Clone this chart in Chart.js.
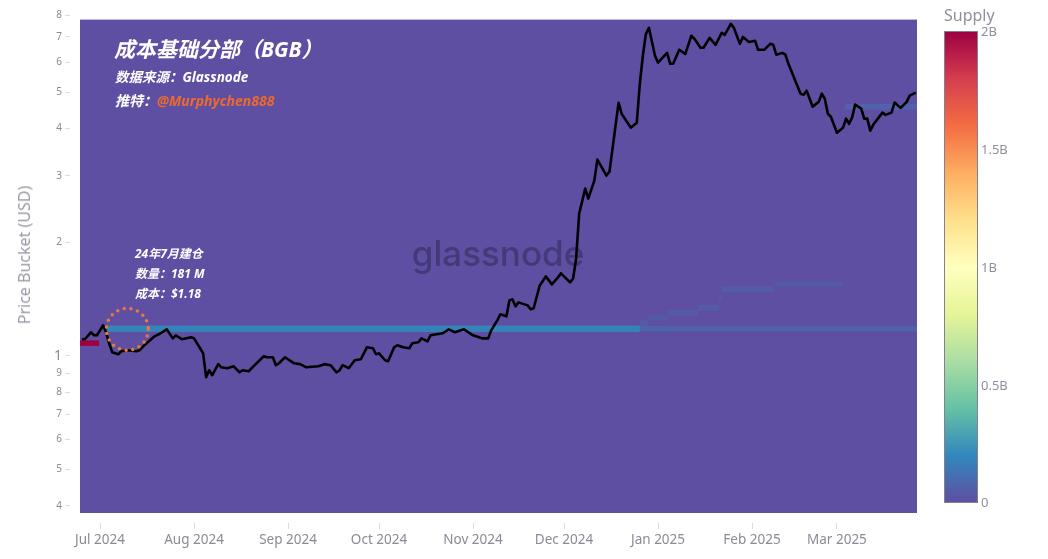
<!DOCTYPE html>
<html>
<head>
<meta charset="utf-8">
<script src="https://cdn.jsdelivr.net/npm/chart.js@4"></script>
<style>
  body { margin: 0; background: #fff; }
  #wrap { position: relative; width: 1048px; height: 559px; overflow: hidden; font-family: "Noto Sans", "Noto Sans CJK SC", sans-serif; }
  canvas { position: absolute; left: 0; top: 0; }
  .note { position: absolute; color: #fff; font-style: italic; font-weight: 700; white-space: nowrap; line-height: 1; font-family: "Noto Sans", "Noto Sans CJK SC", sans-serif; }
  .note span { color: #ee6a2c; }
  #bar { position: absolute; left: 944px; top: 31px; width: 32px; height: 470px; border: 1px solid #85808f;
    background: linear-gradient(to top, #5e4fa2, #3288bd, #66c2a5, #abdda4, #e6f598, #ffffbf, #fee08b, #fdae61, #f46d43, #d53e4f, #9e0142); }
  .barlabel { position: absolute; left: 981px; color: #8f8f9e; font-size: 13px; line-height: 1; }
  #barTitle { position: absolute; left: 944px; top: 6px; color: #8f8f9e; font-size: 16px; line-height: 1.2; }
  #yTitle { position: absolute; left: 24px; top: 255px; color: #9a9aa8; font-size: 16px; line-height: 1; white-space: nowrap; transform: translate(-50%, -50%) rotate(-90deg); }
</style>
</head>
<body>
<div id="wrap">
  <canvas id="chart" width="1048" height="559"></canvas>
  <div id="yTitle">Price Bucket (USD)</div>
  <div class="note" style="left:114px;top:39px;font-size:21px">成本基础分部（BGB）</div>
  <div class="note" style="left:115px;top:71px;font-size:13.5px">数据来源：Glassnode</div>
  <div class="note" style="left:115px;top:94px;font-size:14px">推特：<span>@Murphychen888</span></div>
  <div class="note" style="left:135px;top:248px;font-size:12px">24年7月建仓</div>
  <div class="note" style="left:135px;top:268px;font-size:12px">数量：181 M</div>
  <div class="note" style="left:135px;top:288px;font-size:12px">成本：$1.18</div>
  <div id="barTitle">Supply</div>
  <div id="bar"></div>
  <div class="barlabel" style="top:25px">2B</div>
  <div class="barlabel" style="top:143px">1.5B</div>
  <div class="barlabel" style="top:261px">1B</div>
  <div class="barlabel" style="top:379px">0.5B</div>
  <div class="barlabel" style="top:496px">0</div>
</div>
<script>
// days counted from 1 Jul 2024
const priceDays = [-6, -5, -3, -2, -1, 1, 2, 3, 4, 6, 7, 9, 12, 13, 15, 18, 20, 22, 24, 25, 27, 30, 31, 33, 34, 35, 36, 37, 39, 40, 42, 44, 46, 47, 49, 51, 54, 55, 57, 58, 59, 61, 64, 66, 68, 72, 74, 76, 78, 79, 80, 82, 84, 86, 88, 90, 91, 92, 94, 95, 97, 98, 100, 102, 103, 105, 106, 108, 109, 113, 115, 117, 120, 123, 124, 126, 128, 129, 130, 131, 132, 134, 135, 136, 137, 138, 141, 142, 143, 145, 147, 149, 151, 152, 154, 155, 156, 157, 158, 160, 161, 163, 164, 167, 168, 171, 172, 175, 177, 178, 179, 180, 181, 183, 184, 187, 188, 189, 191, 193, 195, 196, 198, 199, 201, 203, 205, 206, 208, 209, 211, 212, 214, 216, 217, 219, 221, 222, 223, 225, 226, 227, 229, 231, 232, 233, 235, 237, 238, 239, 240, 241, 243, 245, 246, 247, 248, 249, 251, 252, 253, 254, 255, 256, 258, 259, 261, 262, 264, 266, 267, 269];
const prices = [1.106, 1.106, 1.154, 1.133, 1.133, 1.204, 1.154, 1.079, 1.022, 1.009, 1.028, 1.034, 1.028, 1.034, 1.073, 1.126, 1.147, 1.175, 1.112, 1.133, 1.106, 1.119, 1.112, 1.047, 1.015, 0.877, 0.915, 0.888, 0.95, 0.932, 0.927, 0.938, 0.904, 0.915, 0.91, 0.944, 0.997, 0.991, 0.991, 0.944, 0.955, 0.991, 0.955, 0.95, 0.932, 0.938, 0.95, 0.944, 0.904, 0.915, 0.944, 0.927, 0.973, 0.979, 1.053, 1.047, 1.009, 1.015, 0.973, 0.967, 1.053, 1.066, 1.053, 1.047, 1.079, 1.086, 1.112, 1.092, 1.133, 1.147, 1.175, 1.154, 1.175, 1.133, 1.126, 1.112, 1.112, 1.168, 1.204, 1.241, 1.288, 1.272, 1.402, 1.411, 1.352, 1.385, 1.36, 1.328, 1.336, 1.536, 1.623, 1.546, 1.613, 1.653, 1.594, 1.565, 1.603, 1.811, 2.382, 2.774, 2.61, 2.913, 3.311, 3.003, 3.077, 4.685, 4.381, 4.023, 4.148, 5.26, 6.24, 7.13, 7.4, 6.24, 5.98, 6.35, 5.94, 5.94, 6.47, 6.31, 7.05, 6.92, 6.55, 6.55, 6.96, 6.67, 7.18, 7.09, 7.58, 7.4, 6.71, 7.0, 6.79, 6.84, 6.47, 6.47, 6.71, 6.67, 6.28, 6.35, 6.28, 5.94, 5.42, 4.95, 4.92, 5.04, 4.57, 4.71, 4.95, 4.8, 4.38, 4.3, 3.9, 4.02, 4.25, 4.12, 4.28, 4.63, 4.52, 4.25, 4.25, 3.95, 4.1, 4.2, 4.41, 4.35, 4.41, 4.69, 4.54, 4.71, 4.89, 4.98];

// supply buckets
const bucketPrice = [1.08, 1.18, 1.18, 1.22, 1.26, 1.3, 1.34, 1.42, 1.5, 1.55, 4.57];
const bucketStart = [-6.6, 2.3, 178, 178, 180.7, 187.3, 197.2, 204, 205, 222.6, 245.6];
const bucketEnd = [-0.3, 178, 269.4, 180.7, 187.3, 197.2, 204, 205, 222, 245, 269.4];
const bucketSupply = [2e9, 181e6, 70e6, 40e6, 40e6, 40e6, 45e6, 30e6, 45e6, 35e6, 65e6];

const monthDays = [0, 31, 62, 92, 123, 153, 184, 215, 243];
const monthLabels = ['Jul 2024', 'Aug 2024', 'Sep 2024', 'Oct 2024', 'Nov 2024', 'Dec 2024', 'Jan 2025', 'Feb 2025', 'Mar 2025'];
const priceTicks = [0.4, 0.5, 0.6, 0.7, 0.8, 0.9, 1, 2, 3, 4, 5, 6, 7, 8];

const spectral = ['#5e4fa2', '#3288bd', '#66c2a5', '#abdda4', '#e6f598', '#ffffbf', '#fee08b', '#fdae61', '#f46d43', '#d53e4f', '#9e0142'];

function supplyColor(s) {
  const t = Math.min(s / 2e9, 1) * (spectral.length - 1);
  const i = Math.min(Math.floor(t), spectral.length - 2);
  const f = t - i;
  const rgb = h => [1, 3, 5].map(p => parseInt(h.slice(p, p + 2), 16));
  const a = rgb(spectral[i]), b = rgb(spectral[i + 1]);
  return `rgb(${a.map((v, k) => Math.round(v + (b[k] - v) * f)).join(',')})`;
}

const bucketSets = bucketPrice.map((p, i) => ({
  data: [{ x: bucketStart[i], y: p }, { x: bucketEnd[i], y: p }],
  borderColor: supplyColor(bucketSupply[i]),
  borderWidth: i === 1 ? 6.5 : 5.5,
  borderCapStyle: 'butt',
  pointRadius: 0,
  order: 2,
}));

const plotTop = 7.78;
const backdrop = {
  id: 'backdrop',
  beforeDatasetsDraw(chart) {
    const { ctx, chartArea, scales } = chart;
    const top = scales.y.getPixelForValue(plotTop);
    ctx.save();
    ctx.fillStyle = '#5e4fa2';
    ctx.fillRect(chartArea.left, top, chartArea.right - chartArea.left, chartArea.bottom - top);
    ctx.fillStyle = 'rgba(48,42,88,0.55)';
    ctx.font = '500 35px Inter, sans-serif';
    ctx.textAlign = 'center';
    ctx.textBaseline = 'middle';
    ctx.fillText('glassnode', 498, 255);
    ctx.restore();
  },
  afterDatasetsDraw(chart) {
    // 建仓 marker
    const { ctx, scales } = chart;
    ctx.save();
    ctx.strokeStyle = '#ea7a3c';
    ctx.lineWidth = 3.5;
    ctx.lineCap = 'round';
    ctx.setLineDash([0, 6.8]);
    ctx.beginPath();
    ctx.arc(scales.x.getPixelForValue(9), scales.y.getPixelForValue(1.175), 21, 0, Math.PI * 2);
    ctx.stroke();
    ctx.restore();
  }
};

new Chart(document.getElementById('chart'), {
  type: 'line',
  data: {
    datasets: [{
      data: priceDays.map((d, i) => ({ x: d, y: prices[i] })),
      borderColor: '#000',
      borderWidth: 2.6,
      borderJoinStyle: 'round',
      tension: 0,
      pointRadius: 0,
      order: 1,
    }, ...bucketSets]
  },
  options: {
    responsive: false,
    animation: false,
    layout: { padding: { top: 8, right: 131, left: 0, bottom: 0 } },
    plugins: { legend: { display: false }, tooltip: { enabled: false } },
    scales: {
      x: {
        type: 'linear',
        min: -6.6,
        max: 269.4,
        afterFit: s => { s.height = 46; },
        afterBuildTicks: s => { s.ticks = monthDays.map(value => ({ value })); },
        border: { display: false },
        grid: { drawOnChartArea: false, tickLength: 16, tickColor: '#dcdce2', tickBorderDash: [0, 10, 6] },
        ticks: {
          color: '#8a8a99',
          font: { family: '"Noto Sans"', size: 13.5 },
          padding: 3,
          maxRotation: 0,
          autoSkip: false,
          callback: v => monthLabels[monthDays.indexOf(v)],
        },
      },
      y: {
        type: 'logarithmic',
        min: 0.383,
        max: 8.3,
        afterFit: s => { s.width = 80; },
        afterBuildTicks: s => { s.ticks = priceTicks.map(value => ({ value })); },
        border: { display: false },
        grid: { drawOnChartArea: false, tickLength: 15, tickColor: '#dcdce2', tickBorderDash: [5, 10] },
        ticks: {
          color: '#8a8a99',
          font: ctx => ({ family: '"Noto Sans"', size: ctx.tick && ctx.tick.value === 1 ? 14 : 10 }),
          padding: 3,
          autoSkip: false,
          callback: v => (v < 1 ? String(Math.round(v * 10)) : String(v)),
        },
      },
    },
  },
  plugins: [backdrop],
});
</script>
</body>
</html>
